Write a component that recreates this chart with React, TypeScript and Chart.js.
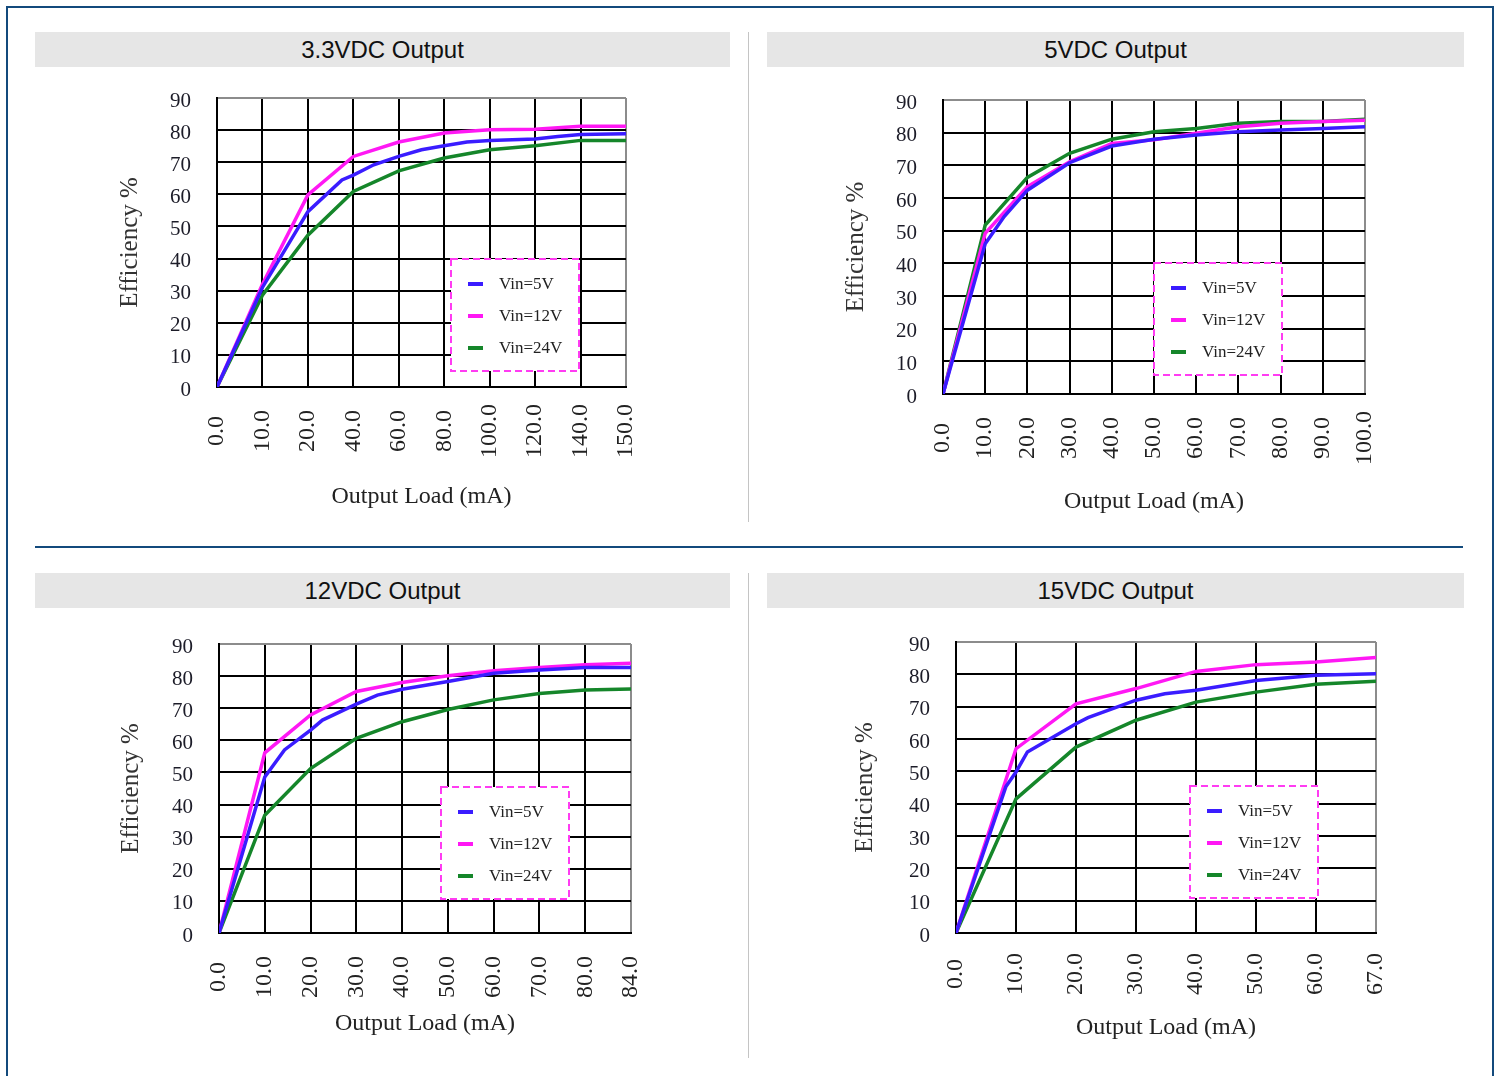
import React, { useEffect, useRef } from 'react';
import { Chart, registerables } from 'chart.js';

Chart.register(...registerables);

// ---------------- data ----------------
const SERIES_LABELS = ['Vin=5V', 'Vin=12V', 'Vin=24V'];
const SERIES_COLORS = ['#3a1cff', '#ff18f4', '#15862a'];

const Y_MIN = 0;
const Y_MAX = 90;
const Y_STEP = 10;

const X_TITLE = 'Output Load (mA)';
const Y_TITLE = 'Efficiency %';

// 3.3VDC Output  (x = position on the category axis, y = efficiency %)
const TITLE_33 = '3.3VDC Output';
const LOADS_33 = ['0.0', '10.0', '20.0', '40.0', '60.0', '80.0', '100.0', '120.0', '140.0', '150.0'];
const EFF_33_VIN5: [number, number][] = [[0, 0], [1, 31], [2, 54.6], [2.75, 64.5], [3, 66], [3.45, 69.2], [4, 71.8], [4.5, 73.9], [5, 75.1], [5.5, 76.3], [6, 76.8], [7, 77.2], [7.5, 78], [8, 78.6], [9, 78.9]];
const EFF_33_VIN12: [number, number][] = [[0, 0], [1, 32], [2, 59.8], [3, 71.8], [4, 76.3], [5, 79.1], [6, 80.1], [7, 80.3], [8, 81.2], [9, 81.2]];
const EFF_33_VIN24: [number, number][] = [[0, 0], [1, 28.6], [2, 47.3], [3, 60.9], [4, 67.3], [5, 71.3], [6, 73.9], [7, 75.1], [8, 76.8], [9, 76.8]];

// 5VDC Output
const TITLE_5 = '5VDC Output';
const LOADS_5 = ['0.0', '10.0', '20.0', '30.0', '40.0', '50.0', '60.0', '70.0', '80.0', '90.0', '100.0'];
const EFF_5_VIN5: [number, number][] = [[0, 0], [1, 46], [1.45, 54.3], [2, 62.4], [3, 70.8], [4, 75.9], [5, 78], [6, 79.3], [7, 80.3], [8, 80.8], [9, 81.3], [10, 81.8]];
const EFF_5_VIN12: [number, number][] = [[0, 0], [1, 49.2], [2, 63.5], [3, 71.1], [4, 76.7], [5, 77.8], [6, 79.8], [7, 81.8], [8, 82.9], [9, 83.4], [10, 83.8]];
const EFF_5_VIN24: [number, number][] = [[0, 0], [1, 51.7], [2, 66.3], [3, 73.7], [4, 78], [5, 80.3], [6, 81.3], [7, 82.9], [8, 83.4], [9, 83.4], [10, 84.1]];

// 12VDC Output
const TITLE_12 = '12VDC Output';
const LOADS_12 = ['0.0', '10.0', '20.0', '30.0', '40.0', '50.0', '60.0', '70.0', '80.0', '84.0'];
const EFF_12_VIN5: [number, number][] = [[0, 0], [1, 48.6], [1.43, 57], [2, 63.2], [2.26, 66.3], [3, 71.3], [3.46, 74.1], [4, 75.9], [5, 78.3], [6, 80.9], [7, 81.9], [8, 82.7], [9, 82.7]];
const EFF_12_VIN12: [number, number][] = [[0, 0], [1, 56.1], [2, 67.9], [3, 75.2], [4, 78], [5, 80.1], [6, 81.7], [7, 82.7], [8, 83.5], [9, 84]];
const EFF_12_VIN24: [number, number][] = [[0, 0], [1, 36.7], [2, 51.2], [3, 60.6], [4, 65.8], [5, 69.6], [6, 72.6], [7, 74.6], [8, 75.7], [9, 76]];

// 15VDC Output
const TITLE_15 = '15VDC Output';
const LOADS_15 = ['0.0', '10.0', '20.0', '30.0', '40.0', '50.0', '60.0', '67.0'];
const EFF_15_VIN5: [number, number][] = [[0, 0], [0.83, 45.2], [1, 49.8], [1.19, 56], [2, 64.7], [2.2, 66.6], [3, 72], [3.48, 74], [4, 75.1], [5, 78.1], [6, 79.7], [7, 80.2]];
const EFF_15_VIN12: [number, number][] = [[0, 0], [1, 57], [2, 70.9], [3, 75.6], [4, 80.9], [5, 83], [6, 83.8], [7, 85.2]];
const EFF_15_VIN24: [number, number][] = [[0, 0], [1, 41.5], [2, 57.5], [3, 65.8], [4, 71.4], [5, 74.5], [6, 76.9], [7, 77.9]];

// ---------------- layout ----------------
type Layout = {
  canvas: [number, number, number, number]; // left, top, width, height (page px)
  area: [number, number, number, number]; // plot left, top, right, bottom (page px)
  yTitleX: number;
  xTitleY: number;
  xLabelY: number;
  legend: [number, number]; // offset of legend box from plot top-left
};

const LAYOUT_33: Layout = { canvas: [35, 70, 695, 460], area: [217, 98, 626, 387], yTitleX: 130, xTitleY: 497, xLabelY: 431, legend: [234, 161] };
const LAYOUT_5: Layout = { canvas: [767, 70, 697, 460], area: [943, 100, 1365, 394], yTitleX: 856, xTitleY: 502, xLabelY: 438, legend: [211, 163] };
const LAYOUT_12: Layout = { canvas: [35, 611, 695, 455], area: [219, 644, 631, 933], yTitleX: 131, xTitleY: 1024, xLabelY: 977, legend: [222, 143] };
const LAYOUT_15: Layout = { canvas: [767, 611, 697, 455], area: [956, 642, 1376, 933], yTitleX: 865, xTitleY: 1028, xLabelY: 974, legend: [234, 144] };

const SERIF = '"Liberation Serif", "Times New Roman", serif';
const SANS = '"Liberation Sans", Arial, sans-serif';
const FRAME = '#134a7c';

type PanelProps = {
  title: string;
  loads: string[];
  series: [number, number][][];
  layout: Layout;
};

function Panel({ loads, series, layout }: PanelProps) {
  const ref = useRef<HTMLCanvasElement>(null);
  const [cx, cy, cw, ch] = layout.canvas;
  const [L, T, R, B] = layout.area;

  useEffect(() => {
    if (!ref.current) return;
    const n = loads.length;
    const xTitleHalf = (24 * 1.2) / 2;
    const yTitleHalf = (25 * 1.2) / 2;
    const yAxisWidth = L - cx;
    const xAxisHeight = cy + ch - B;
    const labelOffset = layout.xLabelY - B;

    const decor = {
      id: 'panelDecor',
      afterDatasetsDraw(chart: any) {
        const { ctx, chartArea } = chart;
        const bx = chartArea.left + layout.legend[0];
        const by = chartArea.top + layout.legend[1];
        const bw = 128;
        const bh = 112;
        ctx.save();
        ctx.fillStyle = '#ffffff';
        ctx.fillRect(bx, by, bw, bh);
        ctx.setLineDash([7, 4]);
        ctx.strokeStyle = '#ff3cf2';
        ctx.lineWidth = 2;
        ctx.strokeRect(bx, by, bw, bh);
        ctx.setLineDash([]);
        const rows = [25, 57, 89];
        SERIES_LABELS.forEach((lab, i) => {
          const y = by + rows[i];
          ctx.strokeStyle = SERIES_COLORS[i];
          ctx.lineWidth = 4;
          ctx.beginPath();
          ctx.moveTo(bx + 17, y);
          ctx.lineTo(bx + 32, y);
          ctx.stroke();
          ctx.fillStyle = '#222';
          ctx.font = `17px ${SERIF}`;
          ctx.textAlign = 'left';
          ctx.textBaseline = 'middle';
          ctx.fillText(lab, bx + 48, y + 1);
        });
        ctx.restore();
      },
      afterDraw(chart: any) {
        const { ctx, chartArea } = chart;
        const xs = chart.scales.x;
        ctx.save();
        ctx.font = `24px ${SERIF}`;
        ctx.fillStyle = '#222';
        ctx.textAlign = 'center';
        ctx.textBaseline = 'middle';
        loads.forEach((lab, i) => {
          const x = xs.getPixelForValue(i);
          ctx.save();
          ctx.translate(x, chartArea.bottom + labelOffset);
          ctx.rotate(-Math.PI / 2);
          ctx.fillText(lab, 0, 0);
          ctx.restore();
        });
        ctx.restore();
      },
    };

    const chart = new Chart(ref.current, {
      type: 'line',
      data: {
        datasets: series.map((pts, i) => ({
          label: SERIES_LABELS[i],
          data: pts.map(([x, y]) => ({ x, y })),
          borderColor: SERIES_COLORS[i],
          backgroundColor: SERIES_COLORS[i],
          borderWidth: 3.5,
          pointRadius: 0,
          tension: 0,
          fill: false,
        })),
      },
      options: {
        responsive: false,
        animation: false,
        events: [],
        layout: { padding: { left: 0, top: T - cy, right: cx + cw - R, bottom: 0 } },
        plugins: { legend: { display: false }, tooltip: { enabled: false } },
        scales: {
          x: {
            type: 'linear',
            min: 0,
            max: n - 1,
            ticks: { stepSize: 1, display: false },
            grid: {
              color: (c: any) => (c.tick && c.tick.value === n - 1 ? '#8c8c8c' : '#000'),
              lineWidth: 2,
              drawTicks: false,
            },
            border: { color: '#000', width: 2 },
            title: {
              display: true,
              text: X_TITLE,
              color: '#222',
              font: { family: SERIF, size: 24 },
              padding: { top: 0, bottom: cy + ch - layout.xTitleY - xTitleHalf },
            },
            afterFit: (s: any) => {
              s.height = xAxisHeight;
              s.paddingLeft = 0;
              s.paddingRight = 0;
            },
          },
          y: {
            type: 'linear',
            min: Y_MIN,
            max: Y_MAX,
            ticks: {
              stepSize: Y_STEP,
              padding: 26,
              labelOffset: 3,
              color: '#1c1c28',
              font: { family: SERIF, size: 21 },
            },
            grid: {
              color: (c: any) => (c.tick && c.tick.value === Y_MAX ? '#8c8c8c' : '#000'),
              lineWidth: 2,
              drawTicks: false,
            },
            border: { color: '#000', width: 2 },
            title: {
              display: true,
              text: Y_TITLE,
              color: '#333',
              font: { family: SERIF, size: 25 },
              padding: { top: layout.yTitleX - cx - yTitleHalf, bottom: 0 },
            },
            afterFit: (s: any) => {
              s.width = yAxisWidth;
              s.paddingTop = 0;
              s.paddingBottom = 0;
            },
          },
        },
      },
      plugins: [decor],
    } as any);
    return () => chart.destroy();
  }, []);

  return (
    <canvas
      ref={ref}
      width={cw}
      height={ch}
      style={{ position: 'absolute', left: cx, top: cy, width: cw, height: ch }}
    />
  );
}

function Header({ text, left, top, width }: { text: string; left: number; top: number; width: number }) {
  return (
    <div
      style={{
        position: 'absolute',
        left,
        top,
        width,
        height: 35,
        background: '#e6e6e6',
        color: '#111',
        font: `24px ${SANS}`,
        lineHeight: '35px',
        textAlign: 'center',
      }}
    >
      {text}
    </div>
  );
}

const PANELS: PanelProps[] = [
  { title: TITLE_33, loads: LOADS_33, series: [EFF_33_VIN5, EFF_33_VIN12, EFF_33_VIN24], layout: LAYOUT_33 },
  { title: TITLE_5, loads: LOADS_5, series: [EFF_5_VIN5, EFF_5_VIN12, EFF_5_VIN24], layout: LAYOUT_5 },
  { title: TITLE_12, loads: LOADS_12, series: [EFF_12_VIN5, EFF_12_VIN12, EFF_12_VIN24], layout: LAYOUT_12 },
  { title: TITLE_15, loads: LOADS_15, series: [EFF_15_VIN5, EFF_15_VIN12, EFF_15_VIN24], layout: LAYOUT_15 },
];

export default function App() {
  return (
    <div
      style={{
        position: 'absolute',
        left: 0,
        top: 0,
        width: 1499,
        height: 1076,
        overflow: 'hidden',
        background: '#ffffff',
      }}
    >
      <div
        style={{
          position: 'absolute',
          left: 6,
          top: 6,
          width: 1484,
          height: 1100,
          borderTop: `2px solid ${FRAME}`,
          borderLeft: `2px solid ${FRAME}`,
          borderRight: `2px solid ${FRAME}`,
        }}
      />
      <div style={{ position: 'absolute', left: 35, top: 546, width: 1428, height: 2, background: FRAME }} />
      <div style={{ position: 'absolute', left: 748, top: 32, width: 1, height: 490, background: '#c4c4c4' }} />
      <div style={{ position: 'absolute', left: 748, top: 573, width: 1, height: 485, background: '#c4c4c4' }} />
      <Header text={TITLE_33} left={35} top={32} width={695} />
      <Header text={TITLE_5} left={767} top={32} width={697} />
      <Header text={TITLE_12} left={35} top={573} width={695} />
      <Header text={TITLE_15} left={767} top={573} width={697} />
      {PANELS.map((p, i) => (
        <Panel key={i} {...p} />
      ))}
    </div>
  );
}
